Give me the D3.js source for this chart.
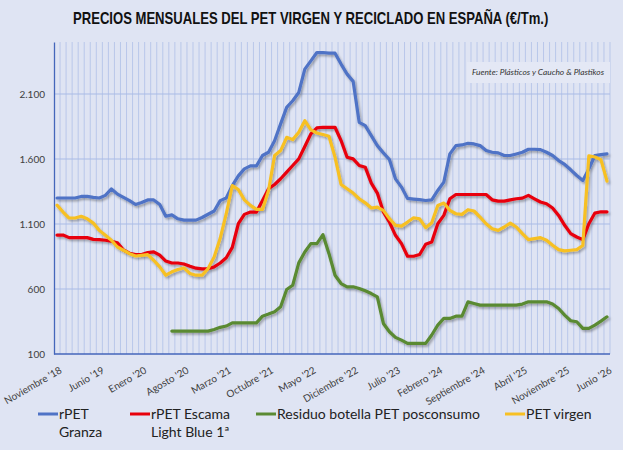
<!DOCTYPE html>
<html>
<head>
<meta charset="utf-8">
<script src="https://cdn.jsdelivr.net/npm/d3@7"></script>
<style>
  html, body { margin: 0; padding: 0; background: #dfe4f3; }
  svg { display: block; }
</style>
</head>
<body>
<svg id="chart" width="623" height="450"></svg>
<script>
// ---------- DATA ----------
const firstYear = 2018; // first category is Noviembre 2018
const nCats = 92;       // Noviembre '18 ... Junio '26
const tickLabels = ["Noviembre '18","Junio '19","Enero '20","Agosto '20","Marzo '21","Octubre '21","Mayo '22",
  "Diciembre '22","Julio '23","Febrero '24","Septiembre '24","Abril '25","Noviembre '25","Junio '26"];
const tickEvery = 7;
const yTicks = [100, 600, 1100, 1600, 2100];

const rpetGranza = [1300,1300,1300,1300,1312,1312,1305,1300,1320,1370,
  1330,1305,1280,1250,1265,1285,1285,1250,1160,1170,
  1140,1130,1130,1130,1150,1175,1200,1280,1300,1395,
  1470,1524,1547,1547,1627,1652,1741,1870,1997,2048,
  2112,2291,2355,2419,2419,2415,2414,2330,2253,2197,
  1882,1857,1780,1703,1647,1596,1447,1384,1297,1292,
  1287,1281,1285,1358,1422,1639,1703,1708,1721,1716,
  1703,1665,1652,1647,1627,1627,1639,1652,1675,1675,
  1672,1652,1627,1588,1558,1517,1473,1435,1524,1627,
  1634,1639];
const rpetEscama = [1015,1015,995,995,995,995,982,980,975,967,
  955,900,875,865,865,880,885,860,815,800,
  800,792,775,760,755,755,770,800,840,920,
  1102,1174,1192,1192,1281,1371,1404,1448,1499,1550,
  1601,1696,1793,1839,1844,1844,1844,1742,1614,1601,
  1550,1537,1414,1338,1192,1115,1013,949,852,852,
  865,944,962,1102,1166,1294,1327,1327,1327,1327,
  1327,1327,1286,1276,1276,1286,1294,1299,1320,1294,
  1269,1256,1223,1166,1090,1026,1000,980,1102,1184,
  1194,1194];
const residuoBotella = [null,null,null,null,null,null,null,null,null,null,
  null,null,null,null,null,null,null,null,null,276,
  276,276,276,276,276,276,289,305,315,340,
  340,340,340,340,391,407,425,463,596,629,
  801,885,949,949,1018,872,706,642,617,617,
  604,586,565,540,335,271,228,207,182,182,
  182,182,246,322,374,374,391,391,501,489,
  476,476,476,476,476,476,476,484,501,501,
  501,501,484,450,399,356,348,297,297,322,
  353,386];
const petVirgen = [1245,1192,1146,1146,1159,1141,1107,1051,1013,975,
  923,898,872,854,859,865,821,770,706,732,
  750,762,719,706,706,757,847,990,1179,1396,
  1365,1286,1243,1212,1212,1358,1627,1665,1767,1749,
  1806,1895,1824,1800,1788,1775,1614,1404,1371,1338,
  1294,1263,1223,1230,1205,1141,1090,1084,1115,1148,
  1140,1072,1110,1243,1261,1205,1179,1174,1210,1200,
  1153,1102,1064,1051,1077,1107,1077,1026,980,987,
  995,975,936,903,893,898,903,935,1625,1615,
  1595,1430];

const seriesColors = ["#4f73c6", "#e8000b", "#5a8a33", "#f7c024"];

// ---------- BUILD ----------
const cats = d3.range(nCats).map(i => {
  const m = (10 + i) % 12;
  const yr = firstYear + Math.floor((10 + i) / 12);
  return yr + "-" + String(m + 1).padStart(2, "0");
});
const allSeries = [rpetGranza, rpetEscama, residuoBotella, petVirgen];

const svg = d3.select("#chart");
const W = 623, H = 450;
const plot = {left: 54, right: 610, top: 42, bottom: 354};
const font = "Lato, 'Open Sans', sans-serif";

svg.append("rect").attr("width", W).attr("height", H).attr("fill", "#dfe4f3");

const defs = svg.append("defs");
const f = defs.append("filter").attr("id", "sh").attr("x", "-5%").attr("y", "-5%").attr("width", "110%").attr("height", "120%");
f.append("feDropShadow").attr("dx", 1.5).attr("dy", 2).attr("stdDeviation", 1.2)
  .attr("flood-color", "#000").attr("flood-opacity", 0.3);

const x = d3.scaleBand().domain(cats).range([plot.left, plot.right]).paddingInner(0).paddingOuter(0);
const y = d3.scaleLinear().domain([100, 2500]).range([plot.bottom, plot.top]);
const xc = i => x(cats[i]) + x.bandwidth() / 2;

// vertical gridlines (category boundaries)
svg.append("g").selectAll("line").data(cats).join("line")
  .attr("x1", d => x(d) + x.bandwidth()).attr("x2", d => x(d) + x.bandwidth())
  .attr("y1", plot.top).attr("y2", plot.bottom)
  .attr("stroke", "#b9c7ea").attr("stroke-width", 1);
// horizontal gridlines
svg.append("g").selectAll("line").data(yTicks.filter(v => v > 100)).join("line")
  .attr("x1", plot.left).attr("x2", plot.right)
  .attr("y1", d => y(d)).attr("y2", d => y(d))
  .attr("stroke", "#a9bbe6").attr("stroke-width", 1);

// Y axis
const yAxis = d3.axisLeft(y).tickValues(yTicks).tickSize(0).tickPadding(9)
  .tickFormat(d => d3.format(",")(d).replace(/,/g, "."));
const gy = svg.append("g").attr("transform", `translate(${plot.left},0)`).call(yAxis);
gy.select(".domain").attr("stroke", "#4466bb").attr("stroke-width", 1.3);
gy.selectAll("text").attr("font-family", font).attr("font-size", 10).attr("fill", "#404040");

// X axis line
svg.append("line").attr("x1", plot.left).attr("x2", plot.right).attr("y1", plot.bottom).attr("y2", plot.bottom)
  .attr("stroke", "#4466bb").attr("stroke-width", 1.3);

// X tick labels
const xl = svg.append("g");
tickLabels.forEach((lab, j) => {
  const i = j * tickEvery;
  const px = xc(i) + 2, py = 366;
  xl.append("text").attr("transform", `translate(${px},${py}) rotate(-30)`)
    .attr("text-anchor", "end").attr("dy", "0.72em")
    .attr("font-family", font).attr("font-size", 10).attr("fill", "#404040")
    .text(lab);
});

// Source box
svg.append("rect").attr("x", 467).attr("y", 62).attr("width", 143).attr("height", 21).attr("fill", "#e4e8f5");
svg.append("text").attr("x", 538).attr("y", 75).attr("text-anchor", "middle")
  .attr("font-family", font).attr("font-style", "italic").attr("font-size", 8.4)
  .attr("fill", "#333").text("Fuente: Plásticos y Caucho & Plastikos");

// Lines
const line = d3.line().defined(d => d != null).x((d, i) => xc(i)).y(d => y(d)).curve(d3.curveLinear);
const gl = svg.append("g").attr("filter", "url(#sh)");
allSeries.forEach((s, k) => {
  gl.append("path").datum(s).attr("d", line).attr("fill", "none")
    .attr("stroke", seriesColors[k]).attr("stroke-width", 3.2).attr("stroke-linejoin", "round").attr("stroke-linecap", "round");
});

// Title (condensed horizontally to match the narrow bold face)
const title = svg.append("text").attr("x", 0).attr("y", 0)
  .attr("font-family", "'Liberation Sans', Arial, sans-serif").attr("font-weight", "bold").attr("font-size", 16.5)
  .attr("fill", "#111")
  .text("PRECIOS MENSUALES DEL PET VIRGEN Y RECICLADO EN ESPAÑA (€/Tm.)");
const tw = title.node().getComputedTextLength();
title.attr("transform", `translate(73,24) scale(${476 / tw},1)`);

// Legend
const legend = [
  {lx: 38, lines: ["rPET", "Granza"]},
  {lx: 130, lines: ["rPET Escama", "Light Blue 1ª"]},
  {lx: 256, lines: ["Residuo botella PET posconsumo"]},
  {lx: 505, lines: ["PET virgen"]}
];
const gLeg = svg.append("g");
legend.forEach((L, k) => {
  gLeg.append("line").attr("x1", L.lx).attr("x2", L.lx + 20).attr("y1", 414).attr("y2", 414)
    .attr("stroke", seriesColors[k]).attr("stroke-width", 3);
  L.lines.forEach((t, r) => {
    gLeg.append("text").attr("x", L.lx + 21).attr("y", 419 + r * 17.5)
      .attr("font-family", font).attr("font-size", 14).attr("fill", "#222")
      .text(t);
  });
});
</script>
</body>
</html>
